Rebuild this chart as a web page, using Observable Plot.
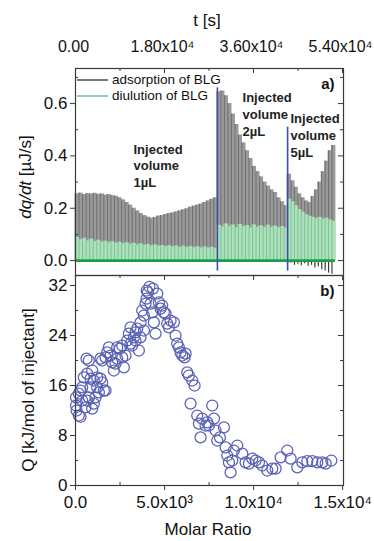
<!DOCTYPE html>
<html>
<head>
<meta charset="utf-8">
<script src="https://cdn.jsdelivr.net/npm/d3@7"></script>
<script src="https://cdn.jsdelivr.net/npm/@observablehq/plot@0.6"></script>
<style>
  html, body { margin: 0; padding: 0; background: #fff; }
  #chart { position: relative; width: 374px; height: 541px; font-family: "Liberation Sans", Arial, sans-serif; color: #111; overflow: hidden; }
  .lbl { position: absolute; white-space: nowrap; line-height: 1; }
  .rot { transform: translate(-50%, -50%) rotate(-90deg); }
  .ctr { transform: translate(-50%, -50%); }
  .leg-line { position: absolute; height: 0; }
  .leg-text { position: absolute; font-size: 13.5px; white-space: nowrap; line-height: 1; }
</style>
</head>
<body>
<div id="chart"></div>
<script>
// ---------------- DATA ----------------
// Panel a) : injection thermogram, t [s]
const segmentStart = [0, 28700, 42900];
const segmentInterval = [717, 710, 690];
const segmentEnd = 52560;
const injectedVolume = ["1µL", "2µL", "5µL"];

const adsorptionPeaks1 = [0.255,0.258,0.252,0.256,0.254,0.257,0.253,0.255,0.250,0.252,0.248,0.246,0.240,0.232,0.222,0.212,0.200,0.190,0.180,0.172,0.166,0.162,0.165,0.170,0.172,0.176,0.180,0.182,0.186,0.190,0.194,0.198,0.204,0.208,0.212,0.216,0.222,0.228,0.234,0.240];
const dilutionPeaks1 = [0.088,0.080,0.085,0.075,0.082,0.072,0.078,0.070,0.074,0.068,0.072,0.066,0.070,0.064,0.068,0.062,0.066,0.060,0.064,0.058,0.062,0.056,0.060,0.055,0.058,0.053,0.057,0.052,0.056,0.050,0.055,0.050,0.054,0.049,0.053,0.048,0.052,0.048,0.051,0.047];

const adsorptionPeaks2 = [0.645,0.648,0.630,0.600,0.560,0.520,0.480,0.450,0.420,0.390,0.360,0.340,0.320,0.300,0.285,0.270,0.260,0.240,0.225,0.210];
const dilutionPeaks2 = [0.135,0.128,0.140,0.130,0.136,0.126,0.138,0.130,0.134,0.125,0.136,0.128,0.133,0.126,0.135,0.127,0.132,0.125,0.130,0.124];

const adsorptionPeaks3 = [0.330,0.305,0.280,0.255,0.240,0.228,0.222,0.245,0.270,0.300,0.340,0.380,0.420,0.440];
const dilutionPeaks3 = [0.235,0.225,0.210,0.195,0.185,0.175,0.170,0.165,0.160,0.165,0.158,0.162,0.155,0.150];
const troughs3 = [-0.012,-0.010,-0.018,-0.014,-0.020,-0.012,-0.022,-0.018,-0.028,-0.024,-0.035,-0.040,-0.048,-0.052];

const volumeChangeTop = [0.66, 0.51];
const volumeChangeBottom = -0.04;

// Panel b) : integrated heats
const molarRatio = [30,60,187,281,30,187,375,562,656,749,937,1030,468,656,749,618,937,1030,1217,1405,1498,1592,1686,1311,1124,375,843,281,1217,843,
  1405,1498,1686,1779,1873,1967,2060,2154,2248,2341,2491,2622,2716,2810,2903,2997,3090,3184,3278,3371,3465,3559,3652,3746,3840,2622,2341,3090,3371,3652,3840,
  3933,3989,4064,4214,4308,4402,4495,4589,4683,4776,4870,4963,5057,5151,4150,4350,4000,
  5244,5338,5525,5619,5713,5806,5900,5994,6125,6181,6275,6368,6556,6687,6462,
  6836,6930,7024,7117,7305,7398,7492,7679,7773,7867,7960,8110,8335,8429,8522,8616,8709,8803,8897,
  9084,9365,9552,9740,9927,10114,10302,10489,10770,11051,11238,11519,11894,12081,12456,12736,13017,13298,13579,13860,14048,14366];
const heatQ = [12.8,12.0,11.2,11.0,14.1,14.7,13.6,12.5,13.6,14.1,12.3,13.1,17.3,17.9,20.0,20.3,18.4,16.8,15.7,17.1,16.5,15.2,15.2,14.9,14.1,15.7,15.7,15.2,17.3,17.1,
  20.3,20.0,20.5,21.3,22.1,20.8,19.7,18.4,19.5,20.3,21.9,22.4,18.9,20.8,23.2,24.3,25.3,22.4,23.7,24.5,25.1,21.6,26.1,28.0,27.2,20.5,22.1,22.7,23.2,23.7,24.8,
  29.1,29.9,30.9,29.1,27.7,26.1,24.3,30.7,29.3,28.3,28.8,27.7,27.5,25.9,31.8,31.5,31.2,
  25.3,26.4,26.1,24.0,22.7,22.1,21.3,20.8,20.5,21.1,18.1,17.6,16.8,16.0,13.1,
  11.2,9.9,7.7,10.7,9.6,10.1,9.6,12.8,10.7,8.8,7.2,7.7,9.3,6.1,4.8,3.7,2.1,4.0,5.6,
  6.4,5.1,3.7,3.5,4.3,4.0,3.7,3.2,2.4,2.7,2.7,4.5,5.6,4.3,2.9,3.7,3.9,3.9,3.7,3.7,3.5,4.0];

// Ticks
const timeTicks = [0, 18000, 36000, 54000];
const timeTickLabels = ["0.00", "1.80x10⁴", "3.60x10⁴", "5.40x10⁴"];
const timeMinor = [9000, 27000, 45000];
const dqTicks = [0, 0.2, 0.4, 0.6];
const dqMinor = [0.1, 0.3, 0.5, 0.7];
const ratioTicks = [0, 5000, 10000, 15000];
const ratioTickLabels = ["0.0", "5.0x10³", "1.0x10⁴", "1.5x10⁴"];
const ratioMinor = [2500, 7500, 12500];
const qTicks = [0, 8, 16, 24, 32];
const qMinor = [4, 12, 20, 28];

// --------------- BUILD TABLES ---------------
const segments = [
  [adsorptionPeaks1, dilutionPeaks1, null],
  [adsorptionPeaks2, dilutionPeaks2, null],
  [adsorptionPeaks3, dilutionPeaks3, troughs3]
];
const injections = [];
segments.forEach(([ads, dil, tr], s) => {
  ads.forEach((v, i) => {
    const t = segmentStart[s] + i * segmentInterval[s];
    injections.push({seg: s, t, t2: t + segmentInterval[s], ads: v, dil: dil[i], trough: tr ? tr[i] : 0});
  });
});
const volumeChanges = volumeChangeTop.map((v, i) => ({t: segmentStart[i + 1], v}));
const annotations = [
  {t: 11730, v: 0.455, label: "Injected\nvolume\n" + injectedVolume[0]},
  {t: 33780, v: 0.650, label: "Injected\nvolume\n" + injectedVolume[1]},
  {t: 43480, v: 0.572, label: "Injected\nvolume\n" + injectedVolume[2]}
];
const scatter = molarRatio.map((r, i) => ({r, q: heatQ[i]}));

const FONT = '"Liberation Sans", Arial, sans-serif';
const AX = "#3a3a3a";
const W = 374, ML = 75, MR = 31;
const FW = W - ML - MR; // frame width 268

// --------------- PANEL a) ---------------
const topH = 276, topMT = 68, topMB = 1;
const topFH = topH - topMT - topMB; // 207
const plotA = Plot.plot({
  width: W, height: topH, marginTop: topMT, marginBottom: topMB, marginLeft: ML, marginRight: MR,
  x: {domain: [0, 54200]},
  y: {domain: [-0.057, 0.734]},
  style: {fontFamily: FONT, fontSize: "17px", color: "#111", background: "transparent", position: "absolute", left: "0px", top: "0px", overflow: "visible"},
  marks: [
    Plot.rect(injections, {x1: "t", x2: "t2", y1: 0, y2: "ads", fill: "#9a9a9a", insetLeft: -0.5, insetRight: -0.5}),
    Plot.ruleX(injections, {x: "t", y1: 0, y2: "ads", stroke: "#4a4a4a", strokeWidth: 0.9, strokeOpacity: 0.6}),
    Plot.rect(injections, {x1: "t", x2: "t2", y1: 0, y2: "dil", fill: "#abe1bb", insetLeft: -0.5, insetRight: -0.5}),
    Plot.ruleX(injections, {x: "t", y1: 0, y2: "dil", stroke: "#6aae80", strokeWidth: 0.9, strokeOpacity: 0.7}),
    Plot.ruleX(injections.filter(d => d.trough < 0), {x: "t", y1: 0, y2: "trough", stroke: "#3a3a3a", strokeWidth: 1.2}),
    Plot.ruleY([0], {x1: 0, x2: segmentEnd, stroke: "#17a04b", strokeWidth: 2.6}),
    Plot.ruleX(volumeChanges, {x: "t", y1: volumeChangeBottom, y2: "v", stroke: "#3f4ea6", strokeWidth: 1.6}),
    Plot.text(annotations, {x: "t", y: "v", text: "label", textAnchor: "start", lineAnchor: "top", fontWeight: "bold", fontSize: 13, lineHeight: 1.3, fill: "#222"}),
    Plot.text(["a)"], {frameAnchor: "top-right", dx: -9, dy: 10, fontWeight: "bold", fontSize: 15, fill: "#111"}),
    Plot.frame({stroke: AX, strokeWidth: 1.2}),
    Plot.axisX({anchor: "top", ticks: timeTicks, tickFormat: d => timeTickLabels[timeTicks.indexOf(d)], tickSize: 0, tickPadding: 17, label: null, fill: "#111", fontSize: 16, dx: -2}),
    Plot.ruleX(timeTicks, {insetBottom: topFH - 5, stroke: AX}),
    Plot.ruleX(timeMinor, {insetBottom: topFH - 3, stroke: AX}),
    Plot.axisY({anchor: "left", ticks: dqTicks, tickFormat: d3.format(".1f"), tickSize: 5, tickPadding: 3, label: null, stroke: AX, fill: "#111"}),
    Plot.ruleY(dqMinor, {insetRight: FW - 3, stroke: AX}),
    Plot.ruleY(dqTicks, {insetLeft: FW - 5, stroke: AX}),
    Plot.ruleY(dqMinor, {insetLeft: FW - 3, stroke: AX})
  ]
});

// --------------- PANEL b) ---------------
const botTop = 274, botH = 267, botMT = 1, botMB = 56;
const botFH = botH - botMT - botMB; // 210
const plotB = Plot.plot({
  width: W, height: botH, marginTop: botMT, marginBottom: botMB, marginLeft: ML, marginRight: MR,
  x: {domain: [0, 15050]},
  y: {domain: [0, 33.6]},
  style: {fontFamily: FONT, fontSize: "17px", color: "#111", background: "transparent", position: "absolute", left: "0px", top: botTop + "px"},
  marks: [
    Plot.dot(scatter, {x: "r", y: "q", r: 5.5, stroke: "#5a62b4", strokeWidth: 1.25, fill: "none"}),
    Plot.text(["b)"], {frameAnchor: "top-right", dx: -9, dy: 10, fontWeight: "bold", fontSize: 15, fill: "#111"}),
    Plot.frame({stroke: AX, strokeWidth: 1.2}),
    Plot.axisY({anchor: "left", ticks: qTicks, tickFormat: d => String(d), tickSize: 5, tickPadding: 3, label: null, stroke: AX, fill: "#111"}),
    Plot.ruleY(qMinor, {insetRight: FW - 3, stroke: AX}),
    Plot.ruleY(qTicks, {insetLeft: FW - 5, stroke: AX}),
    Plot.ruleY(qMinor, {insetLeft: FW - 3, stroke: AX}),
    Plot.axisX({anchor: "bottom", ticks: ratioTicks, tickFormat: d => ratioTickLabels[ratioTicks.indexOf(d)], tickSize: 5, tickPadding: 5, label: null, stroke: AX, fill: "#111"}),
    Plot.ruleX(ratioMinor, {insetTop: botFH - 3, stroke: AX}),
    Plot.ruleX(ratioTicks, {insetBottom: botFH - 5, stroke: AX}),
    Plot.ruleX(ratioMinor, {insetBottom: botFH - 3, stroke: AX})
  ]
});

const chart = document.getElementById("chart");
chart.appendChild(plotB);
chart.appendChild(plotA);

// --------------- TEXT LABELS ---------------
function addLabel(html, x, y, cls, size) {
  const d = document.createElement("div");
  d.className = "lbl " + cls;
  d.style.left = x + "px";
  d.style.top = y + "px";
  d.style.fontSize = size + "px";
  d.innerHTML = html;
  chart.appendChild(d);
}
addLabel("t [s]", 207, 20, "ctr", 17);
addLabel("Molar Ratio", 208, 529, "ctr", 17);
addLabel("<i>dq/dt</i> [µJ/s]", 25, 177, "rot", 17);
addLabel("Q [kJ/mol of injectant]", 28, 390, "rot", 17);

function addLegend(color, text, y) {
  const l = document.createElement("div");
  l.className = "leg-line";
  l.style.left = "77px"; l.style.top = (y - 1) + "px"; l.style.width = "31px";
  l.style.borderTop = "2px solid " + color;
  chart.appendChild(l);
  const t = document.createElement("div");
  t.className = "leg-text";
  t.style.left = "112px"; t.style.top = (y - 7) + "px";
  t.textContent = text;
  chart.appendChild(t);
}
addLegend("#7a7a7a", "adsorption of BLG", 80);
addLegend("#8fd3a4", "diulution of BLG", 96);
</script>
</body>
</html>
